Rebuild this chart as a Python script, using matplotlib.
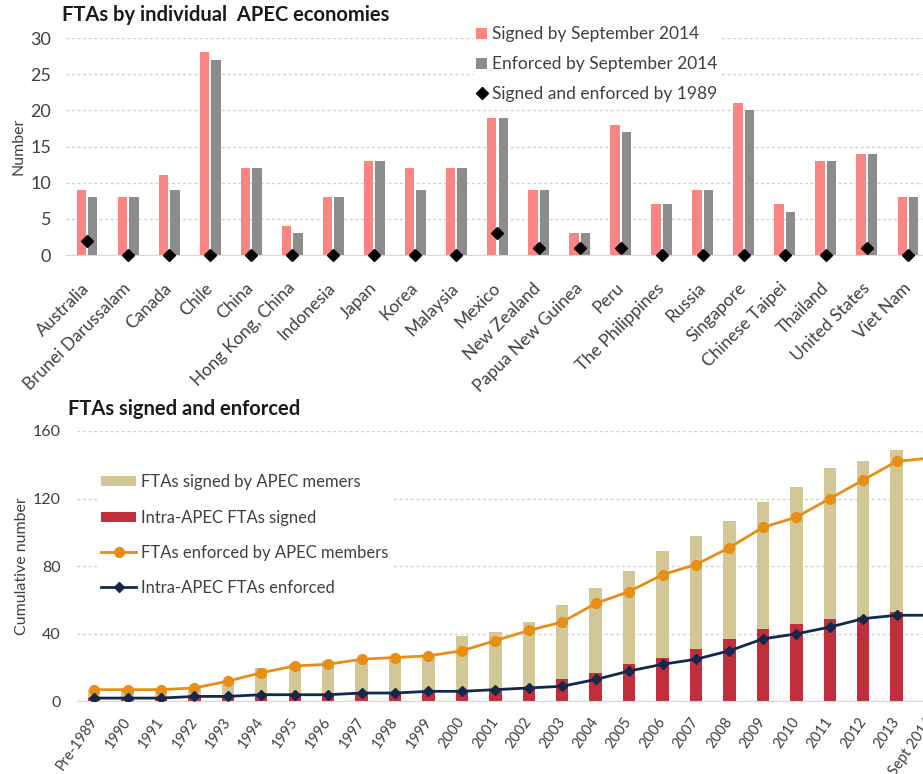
import numpy as np
import matplotlib.pyplot as plt

plt.rcParams['font.family'] = ['Lato', 'DejaVu Sans']

# FTAs by individual APEC economies
economies = ["Australia", "Brunei Darussalam", "Canada", "Chile", "China",
             "Hong Kong, China", "Indonesia", "Japan", "Korea", "Malaysia",
             "Mexico", "New Zealand", "Papua New Guinea", "Peru",
             "The Philippines", "Russia", "Singapore", "Chinese Taipei",
             "Thailand", "United States", "Viet Nam"]
signed_2014 = [9, 8, 11, 28, 12, 4, 8, 13, 12, 12, 19, 9, 3, 18, 7, 9, 21, 7, 13, 14, 8]
enforced_2014 = [8, 8, 9, 27, 12, 3, 8, 13, 9, 12, 19, 9, 3, 17, 7, 9, 20, 6, 13, 14, 8]
by_1989 = [2, 0, 0, 0, 0, 0, 0, 0, 0, 0, 3, 1, 1, 1, 0, 0, 0, 0, 0, 1, 0]

# FTAs signed and enforced (cumulative)
years = ["Pre-1989", "1990", "1991", "1992", "1993", "1994", "1995", "1996",
         "1997", "1998", "1999", "2000", "2001", "2002", "2003", "2004",
         "2005", "2006", "2007", "2008", "2009", "2010", "2011", "2012",
         "2013", "Sept 2014"]
apec_signed = [7, 7, 7, 8, 12, 20, 22, 24, 25, 26, 27, 39, 41, 47, 57, 67,
               77, 89, 98, 107, 118, 127, 138, 142, 149, 152]
intra_signed = [2, 2, 2, 3, 3, 4, 4, 4, 5, 5, 6, 6, 7, 8, 13, 17,
                22, 26, 31, 37, 43, 46, 49, 50, 53, 54]
apec_enforced = [7, 7, 7, 8, 12, 17, 21, 22, 25, 26, 27, 30, 36, 42, 47, 58,
                 65, 75, 81, 91, 103, 109, 120, 131, 142, 144]
intra_enforced = [2, 2, 2, 3, 3, 4, 4, 4, 5, 5, 6, 6, 7, 8, 9, 13,
                  18, 22, 25, 30, 37, 40, 44, 49, 51, 51]

txt = '#404040'
grid_c = '#d0d0d0'

fig = plt.figure(figsize=(9.23, 7.74), dpi=100)

# ---- top chart
ax1 = fig.add_axes([0.072, 0.6705, 0.934, 0.2804])
x = np.arange(len(economies))
b1 = ax1.bar(x - 0.14, signed_2014, 0.23, color='#fa8583', label='Signed by September 2014', zorder=2)
b2 = ax1.bar(x + 0.14, enforced_2014, 0.23, color='#8c8c8c', label='Enforced by September 2014', zorder=2)
d1, = ax1.plot(x, by_1989, 'D', color='black', markersize=6, linestyle='none',
               label='Signed and enforced by 1989', zorder=3, clip_on=False)
ax1.set_xlim(-0.5, len(economies) - 0.5)
ax1.set_ylim(0, 30)
ax1.set_yticks(range(0, 31, 5))
ax1.set_xticks(x)
ax1.set_xticklabels(economies, rotation=45, ha='right', va='center', rotation_mode='anchor')
ax1.yaxis.grid(True, linestyle=(0, (2, 2)), color=grid_c, linewidth=1)
ax1.set_axisbelow(True)
for s in ['top', 'right', 'left']:
    ax1.spines[s].set_visible(False)
ax1.spines['bottom'].set_color('#d9d9d9')
ax1.tick_params(length=0, colors=txt)
ax1.tick_params(axis='y', pad=11, labelsize=13)
ax1.tick_params(axis='x', pad=22, labelsize=12.5)
leg1 = ax1.legend([b1, b2, d1], [b1.get_label(), b2.get_label(), d1.get_label()],
                  loc='upper left', bbox_to_anchor=(473 / 923, 1 - 23 / 774),
                  bbox_transform=fig.transFigure, fontsize=12.5, frameon=True,
                  facecolor='white', edgecolor='none', framealpha=1, fancybox=False,
                  handlelength=0.6, handleheight=0.6, handletextpad=0.3,
                  labelspacing=0.8, borderpad=0.2, borderaxespad=0)
for t in leg1.get_texts():
    t.set_color(txt)
fig.text(0.067, 0.981, 'FTAs by individual  APEC economies', fontsize=14.5,
         fontweight='bold', color='#1a1a1a', va='center')
fig.text(0.02, 1 - 146 / 774, 'Number', rotation=90, fontsize=11.5, color=txt,
         ha='center', va='center')

# ---- bottom chart
ax2 = fig.add_axes([0.0838, 0.0937, 0.942, 0.3495])
xb = np.arange(len(years))
t1 = ax2.bar(xb, apec_signed, 0.37, color='#d3c795', label='FTAs signed by APEC memers', zorder=2)
t2 = ax2.bar(xb, intra_signed, 0.37, color='#c22f3c', label='Intra-APEC FTAs signed', zorder=2)
l1, = ax2.plot(xb, apec_enforced, '-o', color='#e88e14', linewidth=2, markersize=7,
               label='FTAs enforced by APEC members', zorder=3)
l2, = ax2.plot(xb, intra_enforced, '-D', color='#13294b', linewidth=2, markersize=5.5,
               label='Intra-APEC FTAs enforced', zorder=4)
ax2.set_xlim(-0.5, len(years) - 0.5)
ax2.set_ylim(0, 160)
ax2.set_yticks(range(0, 161, 40))
ax2.set_xticks(xb)
ax2.set_xticklabels(years, rotation=55, ha='right', va='center', rotation_mode='anchor')
ax2.yaxis.grid(True, linestyle=(0, (2, 2)), color=grid_c, linewidth=1)
ax2.set_axisbelow(True)
for s in ['top', 'right', 'left']:
    ax2.spines[s].set_visible(False)
ax2.spines['bottom'].set_color('#d9d9d9')
ax2.tick_params(length=0, colors=txt)
ax2.tick_params(axis='y', pad=12, labelsize=11.5)
ax2.tick_params(axis='x', pad=12.5, labelsize=10.5)
hs = [t1, t2, l1, l2]
leg2 = ax2.legend(hs, [h.get_label() for h in hs],
                  loc='upper left', bbox_to_anchor=(98 / 923, 1 - 471 / 774),
                  bbox_transform=fig.transFigure, fontsize=12, frameon=True,
                  facecolor='white', edgecolor='none', framealpha=1, fancybox=False,
                  handlelength=2.1, handleheight=0.55, handletextpad=0.3,
                  labelspacing=1.15, borderpad=0.2, borderaxespad=0)
for t in leg2.get_texts():
    t.set_color(txt)
fig.text(0.074, 1 - 409 / 774, 'FTAs signed and enforced', fontsize=14.5,
         fontweight='bold', color='#1a1a1a', va='center')
fig.text(0.0235, 1 - 566 / 774, 'Cumulative number', rotation=90, fontsize=11.5,
         color=txt, ha='center', va='center')

fig.savefig('out.png', dpi=100)
